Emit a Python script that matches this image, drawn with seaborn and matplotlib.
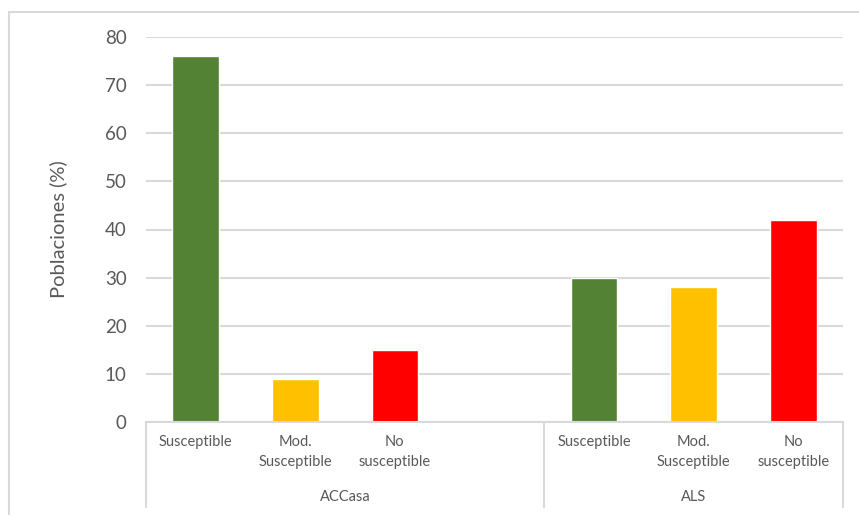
import numpy as np
import pandas as pd
import matplotlib.pyplot as plt
from matplotlib.patches import Rectangle
import seaborn as sns

# datos
grupos = ["ACCasa", "ACCasa", "ACCasa", "ALS", "ALS", "ALS"]
niveles = ["Susceptible", "Mod.\nSusceptible", "No\nsusceptible",
           "Susceptible", "Mod.\nSusceptible", "No\nsusceptible"]
valores = [76, 9, 15, 30, 28, 42]
colores = {"Susceptible": "#548235", "Mod.\nSusceptible": "#FFC000",
           "No\nsusceptible": "#FF0000"}

df = pd.DataFrame({"grupo": grupos, "nivel": niveles, "valor": valores})
df["slot"] = df["grupo"] + "|" + df["nivel"]
# ACCasa lleva una cuarta categoria vacia
orden = list(df["slot"][:3]) + ["ACCasa|vacio"] + list(df["slot"][3:])

sns.set_style("white")
plt.rcParams["font.family"] = ["Lato", "DejaVu Sans"]
gris = "#595959"
linea = "#d9d9d9"

fig = plt.figure(figsize=(8.59, 5.15), dpi=100)
ax = fig.add_axes([146 / 859, 1 - 422 / 515, (843 - 146) / 859, (422 - 37) / 515])

sns.barplot(data=df, x="slot", y="valor", hue="nivel", order=orden,
            palette=colores, dodge=False, width=0.47, legend=False,
            saturation=1, ax=ax)

ax.set_ylim(0, 80)
ax.set_yticks(np.arange(0, 81, 10))
ax.yaxis.grid(True, color=linea, linewidth=1.5)
ax.set_axisbelow(True)
for s in ["top", "right", "left"]:
    ax.spines[s].set_visible(False)
ax.spines["bottom"].set_color(linea)
ax.spines["bottom"].set_linewidth(1.5)
ax.tick_params(axis="y", length=0, labelsize=13.5, labelcolor=gris, pad=14)
ax.set_xticks([])
ax.set_xlabel("")
ax.set_ylabel("Poblaciones (%)", fontsize=14.5, color=gris)
ax.yaxis.set_label_coords(-0.113, 0.5)
ax.set_xlim(-0.5, len(orden) - 0.5)

# etiquetas de categoria en dos niveles
tr = ax.get_xaxis_transform()
for i, s in enumerate(orden):
    g, n = s.split("|")
    if n == "vacio":
        continue
    ax.text(i, -0.033, n, transform=tr, ha="center", va="top",
            fontsize=10.5, color=gris, linespacing=1.55)

n_acc = 4
for nombre, ini, fin in [("ACCasa", 0, n_acc), ("ALS", n_acc, len(orden))]:
    ax.text((ini + fin - 1) / 2, -0.195, nombre, transform=tr, ha="center",
            va="center", fontsize=10.5, color=gris)
for xb in [-0.5, n_acc - 0.5, len(orden) - 0.5]:
    ax.plot([xb, xb], [0, -0.221], transform=tr, color=linea, lw=1.5,
            clip_on=False)

# borde del grafico
fig.add_artist(Rectangle((9 / 859, -0.1), 1.2, 1 - 12 / 515 + 0.1,
                         transform=fig.transFigure, fill=False,
                         edgecolor=linea, linewidth=1.5))

fig.savefig("out.png", dpi=100)
